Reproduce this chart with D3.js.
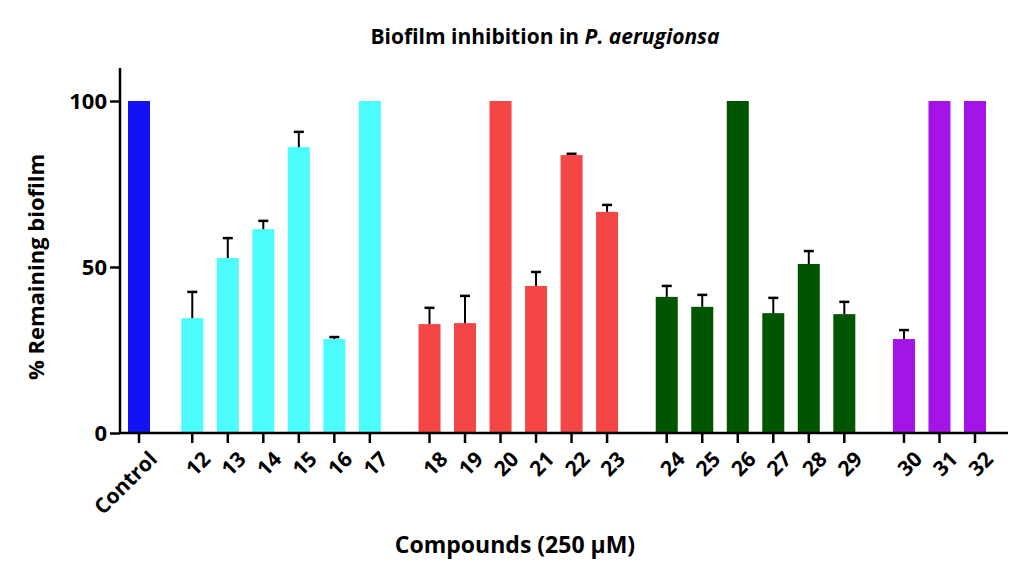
<!DOCTYPE html>
<html><head><meta charset="utf-8">
<script src="https://cdn.jsdelivr.net/npm/d3@7"></script>
<style>body{margin:0;background:#fff}text{font-family:"Open Sans",sans-serif;font-weight:bold}</style>
</head><body><svg id="c" width="1024" height="570"></svg>
<script>
const categories=["Control","12","13","14","15","16","17","18","19","20","21","22","23","24","25","26","27","28","29","30","31","32"];
const groups=[0,1,1,1,1,1,1,2,2,2,2,2,2,3,3,3,3,3,3,4,4,4];
const values=[100,34.6,52.7,61.4,86.1,28.3,100,32.8,33.1,100,44.3,83.7,66.6,41,38,100,36.1,50.9,35.8,28.3,100,100];
const errTop=[null,42.5,58.7,63.9,90.7,28.9,null,37.7,41.3,null,48.5,84.1,68.7,44.3,41.6,null,40.7,54.8,39.5,31,null,null];
const colors=["#1212f2","#4dfdfd","#f54646","#005500","#a414e6"];
const yTicks=[0,50,100];
const svg=d3.select("#c");
const y=d3.scaleLinear().domain([0,100]).range([433,101]);
const pos=categories.map((c,i)=>i+(groups[i]>0?(groups[i]===1?0.5:0.5+(groups[i]-1)*0.68):0));
const x=d3.scaleLinear().domain([0,d3.max(pos)]).range([139,975]);
const bw=22;
const g=svg.append("g");
categories.forEach((c,i)=>{
  const cx=x(pos[i]);
  g.append("rect").attr("x",cx-bw/2).attr("width",bw).attr("y",y(values[i])).attr("height",y(0)-y(values[i])).attr("fill",colors[groups[i]]);
  if(errTop[i]!=null){
    g.append("line").attr("x1",cx).attr("x2",cx).attr("y1",y(values[i])).attr("y2",y(errTop[i])).attr("stroke","#000").attr("stroke-width",2);
    g.append("line").attr("x1",cx-5).attr("x2",cx+5).attr("y1",y(errTop[i])).attr("y2",y(errTop[i])).attr("stroke","#000").attr("stroke-width",2.5);
  }
});
const ya=svg.append("g").attr("transform","translate(120,0)").call(d3.axisLeft(y).tickValues(yTicks).tickSize(10).tickSizeOuter(0));
ya.select(".domain").attr("d","M0,68V433").attr("stroke-width",2.5);
ya.selectAll(".tick line").attr("stroke-width",2.5);
ya.selectAll("text").attr("font-size",22).attr("x",-13);
svg.append("line").attr("x1",120).attr("x2",1008).attr("y1",433).attr("y2",433).attr("stroke","#000").attr("stroke-width",2.5);
categories.forEach((c,i)=>{
  const cx=x(pos[i]);
  svg.append("line").attr("x1",cx).attr("x2",cx).attr("y1",433).attr("y2",443).attr("stroke","#000").attr("stroke-width",2.5);
  svg.append("text").attr("transform",`translate(${cx+7},${448}) rotate(-45)`).attr("text-anchor","end").attr("dominant-baseline","hanging").attr("font-size",21).text(c);
});
const t=svg.append("text").attr("x",545).attr("y",44).attr("text-anchor","middle").attr("font-size",21);
t.append("tspan").text("Biofilm inhibition in ");
t.append("tspan").attr("font-style","italic").text("P. aerugionsa");
svg.append("text").attr("transform","translate(44,267) rotate(-90)").attr("text-anchor","middle").attr("font-size",22).text("% Remaining biofilm");
svg.append("text").attr("x",515).attr("y",553).attr("text-anchor","middle").attr("font-size",23).text("Compounds (250 µM)");
</script></body></html>
